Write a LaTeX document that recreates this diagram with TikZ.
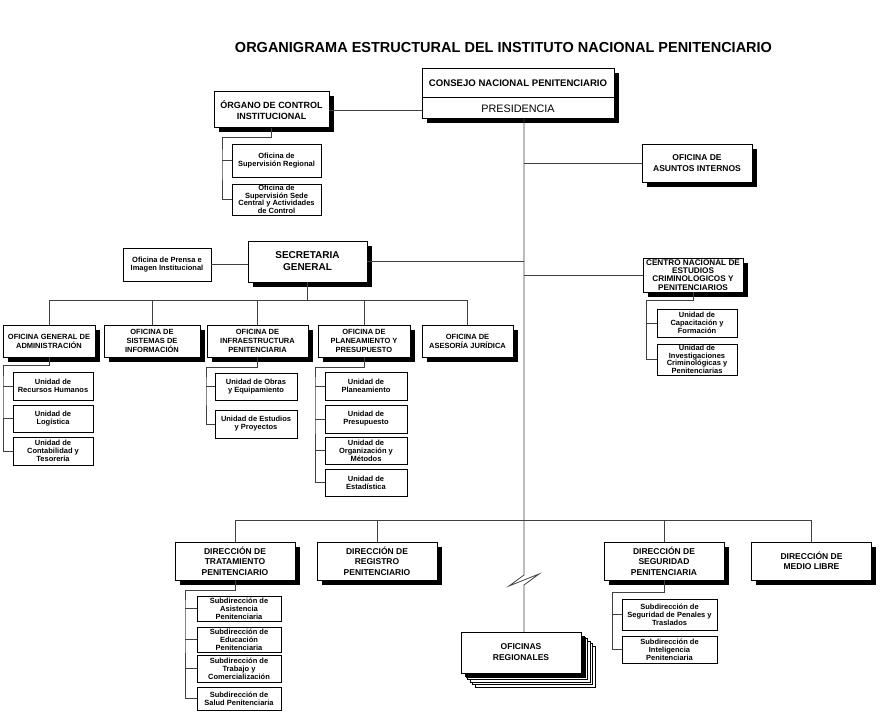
\documentclass[tikz,border=0pt]{standalone}
\usepackage{fontspec}
\setmainfont{Liberation Sans}
\usetikzlibrary{positioning, shadows, backgrounds}

\begin{document}
\begin{tikzpicture}[
    x=1pt, y=-1pt,
    unit/.style={draw, line width=1pt, fill=white, align=center, inner sep=1pt, outer sep=0pt,
        font=\fontsize{7.5}{9}\selectfont\bfseries,
        drop shadow={shadow xshift=4.5pt, shadow yshift=-4.5pt, fill=black, opacity=1}},
    oficina/.style={unit, minimum height=32pt},
    direccion/.style={unit, minimum width=120pt, minimum height=38pt, font=\fontsize{8.5}{10.5}\selectfont\bfseries},
    subunit/.style={draw, line width=0.9pt, fill=white, align=center, inner xsep=1pt, inner ysep=0.5pt, outer sep=0pt,
        minimum width=82pt, font=\fontsize{7.5}{8}\selectfont\bfseries},
    link/.style={draw=black!75, line width=0.8pt}
]
\useasboundingbox (0,0) rectangle (885,714);

% Nodes
\node[font=\fontsize{14.5}{17}\selectfont\bfseries] (title) at (503.5,48) {ORGANIGRAMA ESTRUCTURAL DEL INSTITUTO NACIONAL PENITENCIARIO};

\node[unit, minimum width=192pt, minimum height=29pt, font=\fontsize{9.6}{11}\selectfont\bfseries] (consejo) at (518,83.5) {CONSEJO NACIONAL PENITENCIARIO};
\node[unit, minimum width=192pt, minimum height=21pt, font=\fontsize{10.8}{12}\selectfont, below=0pt of consejo] (presid) {PRESIDENCIA};

\node[unit, minimum width=115pt, minimum height=36pt, font=\fontsize{9}{11}\selectfont\bfseries] (organo) at (271.5,110) {ÓRGANO DE CONTROL\\INSTITUCIONAL};
\node[subunit, minimum width=89pt, minimum height=33pt] (supreg) at (276.5,160.5) {Oficina de\\Supervisión Regional};
\node[subunit, minimum width=89pt, minimum height=31pt, below=7pt of supreg, font=\fontsize{7.5}{7.6}\selectfont\bfseries] (supsede) {Oficina de\\Supervisión Sede\\Central y Actividades\\de Control};

\node[unit, minimum width=110pt, minimum height=37pt, font=\fontsize{8.5}{11}\selectfont\bfseries] (asuntos) at (697,163.5) {OFICINA DE\\ASUNTOS INTERNOS};

\node[unit, minimum width=119pt, minimum height=41pt, font=\fontsize{10}{12}\selectfont\bfseries] (secretaria) at (307.5,261.5) {SECRETARIA\\GENERAL};
\node[subunit, minimum width=88pt, minimum height=33pt] (prensa) at (167,264.5) {Oficina de Prensa e\\Imagen Institucional};

\node[unit, minimum width=100pt, minimum height=34pt, font=\fontsize{8.2}{8.3}\selectfont\bfseries] (centro) at (693,275) {CENTRO NACIONAL DE\\ESTUDIOS\\CRIMINOLOGICOS Y\\PENITENCIARIOS};
\node[subunit, minimum width=80pt, minimum height=28pt] (capac) at (697,323) {Unidad de\\Capacitación y\\Formación};
\node[subunit, minimum width=80pt, minimum height=31pt, below=7pt of capac, font=\fontsize{7.5}{7.6}\selectfont\bfseries] (invest) {Unidad de\\Investigaciones\\Criminológicas y\\Penitenciarias};

\node[oficina, minimum width=92pt] (admin) at (49,341) {OFICINA GENERAL DE\\ADMINISTRACIÓN};
\node[oficina, minimum width=96pt] (sistemas) at (152,341) {OFICINA DE\\SISTEMAS DE\\INFORMACIÓN};
\node[oficina, minimum width=101pt] (infra) at (257.5,341) {OFICINA DE\\INFRAESTRUCTURA\\PENITENCIARIA};
\node[oficina, minimum width=92pt] (plan) at (364,341) {OFICINA DE\\PLANEAMIENTO Y\\PRESUPUESTO};
\node[oficina, minimum width=91pt] (juridica) at (467.5,341) {OFICINA DE\\ASESORÍA JURÍDICA};

\node[subunit, minimum width=80pt, minimum height=28pt] (rrhh) at (53,386) {Unidad de\\Recursos Humanos};
\node[subunit, minimum width=80pt, minimum height=27pt, below=5pt of rrhh] (logistica) {Unidad de\\Logística};
\node[subunit, minimum width=80pt, minimum height=28pt, below=5pt of logistica] (conta) {Unidad de\\Contabilidad y\\Tesorería};

\node[subunit, minimum height=27pt] (obras) at (256,386.5) {Unidad de Obras\\y Equipamiento};
\node[subunit, minimum height=28pt, below=10pt of obras] (estudios) {Unidad de Estudios\\y Proyectos};

\node[subunit, minimum height=28pt] (planeam) at (366,386) {Unidad de\\Planeamiento};
\node[subunit, minimum height=28pt, below=5pt of planeam] (presup) {Unidad de\\Presupuesto};
\node[subunit, minimum height=27pt, below=4pt of presup] (organiz) {Unidad de\\Organización y\\Métodos};
\node[subunit, minimum height=27pt, below=5pt of organiz] (estad) {Unidad de\\Estadística};

\node[direccion] (trat) at (235,561) {DIRECCIÓN DE\\TRATAMIENTO\\PENITENCIARIO};
\node[direccion] (registro) at (377,561) {DIRECCIÓN DE\\REGISTRO\\PENITENCIARIO};
\node[direccion] (segur) at (664,561) {DIRECCIÓN DE\\SEGURIDAD\\PENITENCIARIA};
\node[direccion] (medio) at (811.5,561) {DIRECCIÓN DE\\MEDIO LIBRE};

\node[subunit, minimum width=84pt, minimum height=25pt] (asist) at (239,608.5) {Subdirección de\\Asistencia\\Penitenciaria};
\node[subunit, minimum width=84pt, minimum height=25pt, below=6pt of asist] (educ) {Subdirección de\\Educación\\Penitenciaria};
\node[subunit, minimum width=84pt, minimum height=27pt, below=3pt of educ] (trab) {Subdirección de\\Trabajo y\\Comercialización};
\node[subunit, minimum width=84pt, minimum height=23pt, below=5pt of trab] (salud) {Subdirección de\\Salud Penitenciaria};

\node[subunit, minimum width=95pt, minimum height=31pt] (penales) at (669.5,614.5) {Subdirección de\\Seguridad de Penales y\\Traslados};
\node[subunit, minimum width=95pt, minimum height=27pt, below=6pt of penales] (intel) {Subdirección de\\Inteligencia\\Penitenciaria};

\node[unit, minimum width=120pt, minimum height=41pt, font=\fontsize{8.5}{11}\selectfont\bfseries,
    drop shadow={shadow xshift=3.5pt, shadow yshift=-3.5pt, fill=black, opacity=1}] (regional) at (521,652.5) {OFICINAS\\REGIONALES};
\begin{scope}[on background layer]
    \foreach \k in {14,11.5,9,6.5}
        \draw[fill=white, line width=0.8pt] ([shift={(\k,\k)}]regional.north west) rectangle ([shift={(\k,\k)}]regional.south east);
\end{scope}

% Lines
\coordinate (trunkTop) at ([xshift=6pt]presid.south);
\coordinate (dirBar) at (524,520);
\coordinate (rowBar) at (310,300);

\draw[link] (trunkTop) -- (dirBar) -- ++(0,55) -- ++(-15,11) -- ++(30,-12) -- ++(-15,11) -- (regional.north -| dirBar);
\draw[link] (organo.east) -- (organo.east -| presid.west);
\draw[link] (asuntos.west) -- (asuntos.west -| trunkTop);
\draw[link] (secretaria.east) -- (secretaria.east -| trunkTop);
\draw[link] (centro.west) -- (centro.west -| trunkTop);
\draw[link] (prensa.east) -- (prensa.east -| secretaria.west);

\draw[link] (secretaria.south) -- (secretaria.south |- rowBar);
\draw[link] (admin.north |- rowBar) -- (juridica.north |- rowBar);
\foreach \n in {admin, sistemas, infra, plan, juridica}
    \draw[link] (\n.north |- rowBar) -- (\n.north);

\draw[link] (trat.north |- dirBar) -- (medio.north |- dirBar);
\foreach \n in {trat, registro, segur, medio}
    \draw[link] (\n.north |- dirBar) -- (\n.north);

% Brackets
\draw[link] (organo.south) -- ++(0,9) -| ([xshift=-10pt]supreg.west) |- (supsede.west);
\draw[link] ([xshift=-10pt]supreg.west) -- (supreg.west);

\draw[link] (centro.south) -- ++(0,8) -| ([xshift=-11pt]capac.west) |- (invest.west);
\draw[link] ([xshift=-11pt]capac.west) -- (capac.west);

\draw[link] (admin.south) -- ++(0,8) -| ([xshift=-10pt]rrhh.west) |- (conta.west);
\foreach \n in {rrhh, logistica}
    \draw[link] ([xshift=-10pt]\n.west) -- (\n.west);

\draw[link] (infra.south) -- ++(0,10) -| ([xshift=-9pt]obras.west) |- (estudios.west);
\draw[link] ([xshift=-9pt]obras.west) -- (obras.west);

\draw[link] (plan.south) -- ++(0,10) -| ([xshift=-10pt]planeam.west) |- (estad.west);
\foreach \n in {planeam, presup, organiz}
    \draw[link] ([xshift=-10pt]\n.west) -- (\n.west);

\draw[link] (trat.south) -- ++(0,10) -| ([xshift=-12pt]asist.west) |- (salud.west);
\foreach \n in {asist, educ, trab}
    \draw[link] ([xshift=-12pt]\n.west) -- (\n.west);

\draw[link] (segur.south) -- ++(0,12) -| ([xshift=-10pt]penales.west) |- (intel.west);
\draw[link] ([xshift=-10pt]penales.west) -- (penales.west);

\end{tikzpicture}
\end{document}
